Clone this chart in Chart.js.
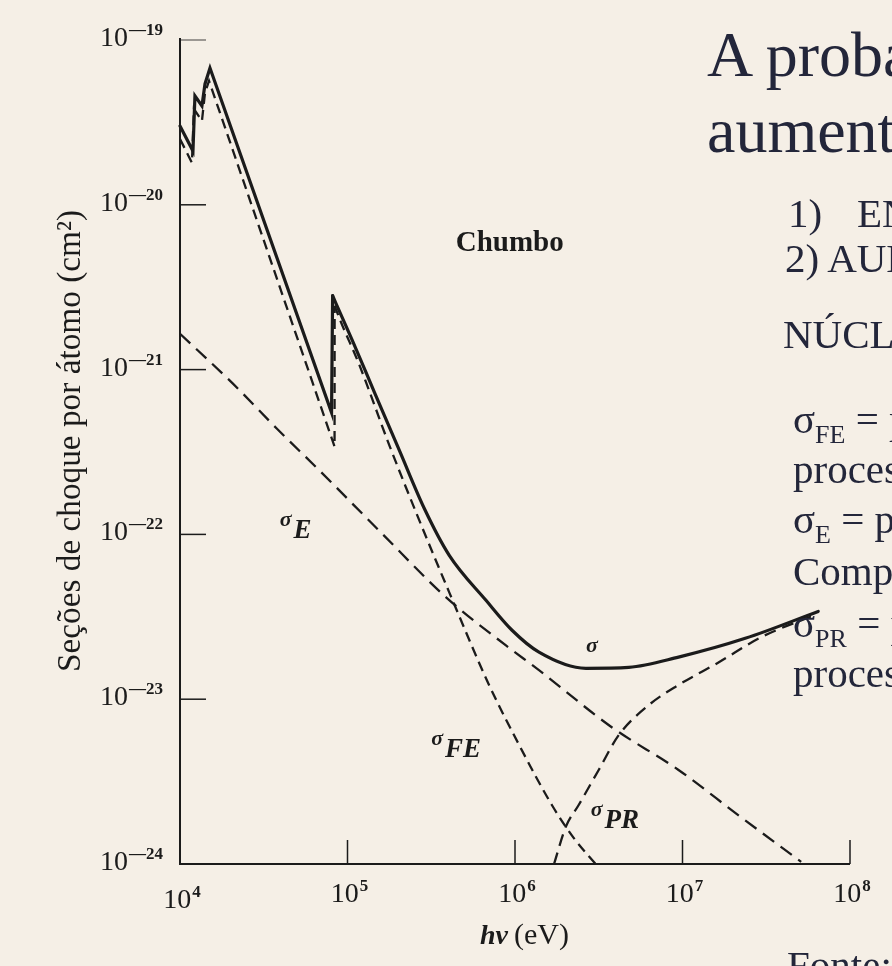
<!DOCTYPE html>
<html lang="pt">
<head>
<meta charset="utf-8">
<title>Seções de choque por átomo – Chumbo</title>
<script src="https://cdn.jsdelivr.net/npm/chart.js@4.4.1/dist/chart.umd.min.js"></script>
<style>
  html, body { margin: 0; padding: 0; background: #f5efe6; }
  #wrap { position: relative; width: 892px; height: 966px; overflow: hidden; }
  #chart { position: absolute; left: 0; top: 0; }
  .slide {
    position: absolute; white-space: nowrap; line-height: 1;
    font-family: "Liberation Serif", "Times New Roman", serif; color: #23263a;
  }
  .big { font-size: 64px; }
  .mid { font-size: 41px; }
  .slide sub { font-size: 26px; vertical-align: -10px; line-height: 1; }
</style>
</head>
<body>
<div id="wrap">
  <canvas id="chart" width="892" height="966"></canvas>

  <div class="slide big" style="left:707px; top:23px;">A probabilidade</div>
  <div class="slide big" style="left:707px; top:99px;">aumenta com</div>
  <div class="slide mid" style="left:788px; top:193px;">1)</div>
  <div class="slide mid" style="left:857px; top:193px;">ENERGIA</div>
  <div class="slide mid" style="left:785px; top:238px;">2) AUMENTO</div>
  <div class="slide mid" style="left:783px; top:314px;">NÚCLEO</div>
  <div class="slide mid" style="left:793px; top:399px;">σ<sub>FE</sub> = probabilidade</div>
  <div class="slide mid" style="left:793px; top:449px;">processo</div>
  <div class="slide mid" style="left:793px; top:499px;">σ<sub>E</sub> = probabilidade</div>
  <div class="slide mid" style="left:793px; top:551px;">Compton</div>
  <div class="slide mid" style="left:793px; top:603px;">σ<sub>PR</sub> = probabilidade</div>
  <div class="slide mid" style="left:793px; top:653px;">processo</div>
  <div class="slide mid" style="left:787px; top:945px;">Fonte:</div>
</div>

<script>
// energia do fóton hν (eV) e seção de choque (cm²) lidas do gráfico
// σ total: trecho das bordas L e K (retas) e trecho depois da borda K (curvo)
const totalEdgeE = [1.0e4, 1.195e4, 1.228e4, 1.352e4, 1.41e4, 1.51e4, 8.03e4, 8.15e4];
const totalEdgeSigma = [3.01e-20, 2.12e-20, 4.58e-20, 3.98e-20, 5.41e-20, 6.76e-20, 5.48e-22, 2.81e-21];
const totalE = [8.15e4, 8.49e4, 1.07e5, 1.45e5, 2.04e5, 2.87e5, 4.05e5, 6.71e5, 9.6e5, 1.39e6, 2.65e6, 4.78e6, 9.47e6, 2.37e7, 6.46e7];
const totalSigma = [2.81e-21, 2.55e-21, 1.50e-21, 7.26e-22, 3.23e-22, 1.44e-22, 7.46e-23, 3.98e-23, 2.62e-23, 1.93e-23, 1.54e-23, 1.56e-23, 1.80e-23, 2.34e-23, 3.41e-23];

// σ_FE (efeito fotoelétrico)
const photoEdgeE = [1.0e4, 1.178e4, 1.211e4, 1.352e4, 1.41e4, 1.49e4, 8.37e4, 8.38e4];
const photoEdgeSigma = [2.51e-20, 1.80e-20, 3.82e-20, 3.23e-20, 4.77e-20, 5.65e-20, 3.41e-22, 2.44e-21];
const photoE = [8.38e4, 8.96e4, 1.18e5, 1.78e5, 2.68e5, 4.05e5, 7.0e5, 1.06e6, 1.66e6, 2.24e6, 3.03e6];
const photoSigma = [2.44e-21, 2.04e-21, 1.06e-21, 3.46e-22, 1.22e-22, 4.45e-23, 1.22e-23, 5.26e-24, 2.28e-24, 1.44e-24, 1.0e-24];

// σ_E (Compton)
const comptonE = [1.0e4, 2.07e4, 3.78e4, 6.81e4, 1.61e5, 3.88e5, 8.83e5, 1.39e6, 3.78e6, 9.47e6, 2.15e7, 5.11e7];
const comptonSigma = [1.65e-21, 8.22e-22, 4.39e-22, 2.44e-22, 1.01e-22, 4.15e-23, 2.12e-23, 1.50e-23, 6.76e-24, 3.72e-24, 1.98e-24, 1.03e-24];

// σ_PR (produção de pares)
const pairE = [1.71e6, 2.01e6, 2.40e6, 3.16e6, 4.16e6, 6.28e6, 9.47e6, 1.64e7, 2.95e7, 6.28e7];
const pairSigma = [1.0e-24, 1.68e-24, 2.28e-24, 3.72e-24, 6.05e-24, 9.2e-24, 1.22e-23, 1.67e-23, 2.38e-23, 3.27e-23];

// eixos
const xTicks = [1e4, 1e5, 1e6, 1e7, 1e8];
const xTickPowers = ['4', '5', '6', '7', '8'];
const yTicks = [1e-19, 1e-20, 1e-21, 1e-22, 1e-23, 1e-24];
const yTickPowers = ['—19', '—20', '—21', '—22', '—23', '—24'];
const xTitle = ['hν', '(eV)'];
const yTitle = 'Seções de choque por átomo (cm²)';

// rótulos das curvas (posição em unidades dos dados)
const curveLabels = [
  { sub: 'E', x: 3.94e4, y: 9.46e-23 },
  { sub: 'FE', x: 3.16e5, y: 4.45e-24 },
  { sub: 'PR', x: 2.83e6, y: 1.65e-24 },
  { sub: '', x: 2.65e6, y: 1.93e-23 }
];
const material = { text: 'Chumbo', x: 9.3e5, y: 5.26e-21 };

const INK = '#1b1b1b';
const SERIF = '"Liberation Serif", "DejaVu Serif", serif';

const toPoints = (xs, ys) => xs.map((x, i) => ({ x, y: ys[i] }));

function curve(xs, ys, opts) {
  return Object.assign({
    data: toPoints(xs, ys), borderColor: INK, pointRadius: 0, fill: false,
    clip: false, borderJoinStyle: 'miter'
  }, opts);
}

function drawPower(ctx, exp, x, baseline, align) {
  ctx.font = '28px ' + SERIF;
  const wb = ctx.measureText('10').width;
  ctx.font = 'bold 17px ' + SERIF;
  const we = ctx.measureText(exp).width;
  const total = wb + 1 + we;
  const left = align === 'right' ? x - total : x - total / 2;
  ctx.textAlign = 'left';
  ctx.font = '28px ' + SERIF;
  ctx.fillText('10', left, baseline);
  ctx.font = 'bold 17px ' + SERIF;
  ctx.fillText(exp, left + wb + 1, baseline - 11);
}

const frame = {
  id: 'frame',
  beforeDatasetsDraw(chart) {
    const { ctx, scales: { x, y } } = chart;
    const left = x.getPixelForValue(xTicks[0]);
    const right = x.getPixelForValue(xTicks[xTicks.length - 1]);
    const top = y.getPixelForValue(yTicks[0]);
    const bottom = y.getPixelForValue(yTicks[yTicks.length - 1]);
    ctx.save();
    ctx.strokeStyle = INK;
    ctx.lineWidth = 2;
    ctx.beginPath();
    ctx.moveTo(left, top - 2);
    ctx.lineTo(left, bottom);
    ctx.lineTo(right, bottom);
    ctx.stroke();

    ctx.lineWidth = 1.5;
    yTicks.slice(0, -1).forEach((v, i) => {
      const py = y.getPixelForValue(v);
      ctx.globalAlpha = i === 0 ? 0.55 : 1;
      ctx.beginPath();
      ctx.moveTo(left, py);
      ctx.lineTo(left + 26, py);
      ctx.stroke();
    });
    ctx.globalAlpha = 1;
    xTicks.slice(1).forEach(v => {
      const px = x.getPixelForValue(v);
      ctx.beginPath();
      ctx.moveTo(px, bottom);
      ctx.lineTo(px, bottom - 24);
      ctx.stroke();
    });
    ctx.restore();
  },
  afterDraw(chart) {
    const { ctx, scales: { x, y } } = chart;
    const bottom = y.getPixelForValue(yTicks[yTicks.length - 1]);
    ctx.save();
    ctx.fillStyle = INK;
    ctx.textBaseline = 'alphabetic';

    yTicks.forEach((v, i) => {
      drawPower(ctx, yTickPowers[i], 163, y.getPixelForValue(v) + 6, 'right');
    });
    xTicks.forEach((v, i) => {
      drawPower(ctx, xTickPowers[i], x.getPixelForValue(v) + 2, bottom + (i === 0 ? 44 : 38), 'center');
    });

    // título do eixo x
    ctx.textAlign = 'left';
    ctx.font = 'bold italic 28px ' + SERIF;
    const wh = ctx.measureText(xTitle[0]).width;
    ctx.fillText(xTitle[0], 480, bottom + 80);
    ctx.font = '30px ' + SERIF;
    ctx.fillText(xTitle[1], 480 + wh + 6, bottom + 80);

    // título do eixo y
    ctx.font = '30px ' + SERIF;
    const w = ctx.measureText(yTitle).width;
    const size = 30 * 462 / w;
    ctx.font = size.toFixed(1) + 'px ' + SERIF;
    ctx.translate(69 + size * 0.32, 441);
    ctx.rotate(-Math.PI / 2);
    ctx.textAlign = 'center';
    ctx.fillText(yTitle, 0, 0);
    ctx.setTransform(1, 0, 0, 1, 0, 0);

    // material
    ctx.font = 'bold 29px ' + SERIF;
    ctx.textAlign = 'center';
    ctx.fillText(material.text, x.getPixelForValue(material.x), y.getPixelForValue(material.y));

    // rótulos σ
    ctx.textAlign = 'left';
    curveLabels.forEach(l => {
      const px = x.getPixelForValue(l.x);
      const py = y.getPixelForValue(l.y);
      ctx.font = 'bold italic 22px ' + SERIF;
      const ws = ctx.measureText('σ').width;
      ctx.fillText('σ', px, l.sub ? py - 12 : py);
      if (l.sub) {
        ctx.font = 'bold italic 27px ' + SERIF;
        ctx.fillText(l.sub, px + ws + 2, py);
      }
    });
    ctx.restore();
  }
};

const dashedStyle = { borderWidth: 2.3, borderDash: [12, 7] };
const solidStyle = { borderWidth: 3.2, borderCapStyle: 'round' };

new Chart(document.getElementById('chart'), {
  type: 'line',
  data: {
    datasets: [
      curve(comptonE, comptonSigma, Object.assign({ cubicInterpolationMode: 'monotone' }, dashedStyle, { borderDash: [14, 8] })),
      curve(pairE, pairSigma, Object.assign({ cubicInterpolationMode: 'monotone' }, dashedStyle)),
      curve(photoEdgeE, photoEdgeSigma, Object.assign({ tension: 0 }, dashedStyle, { borderDash: [10, 6] })),
      curve(photoE, photoSigma, Object.assign({ cubicInterpolationMode: 'monotone' }, dashedStyle, { borderDash: [10, 6] })),
      curve(totalEdgeE, totalEdgeSigma, Object.assign({ tension: 0 }, solidStyle)),
      curve(totalE, totalSigma, Object.assign({ cubicInterpolationMode: 'monotone' }, solidStyle))
    ]
  },
  options: {
    responsive: false,
    animation: false,
    layout: { padding: { left: 180, right: 42, top: 40, bottom: 102 } },
    scales: {
      x: { type: 'logarithmic', min: 1e4, max: 1e8, display: false },
      y: { type: 'logarithmic', min: 1e-24, max: 1e-19, display: false }
    },
    plugins: { legend: { display: false }, tooltip: { enabled: false } }
  },
  plugins: [frame]
});
</script>
</body>
</html>
